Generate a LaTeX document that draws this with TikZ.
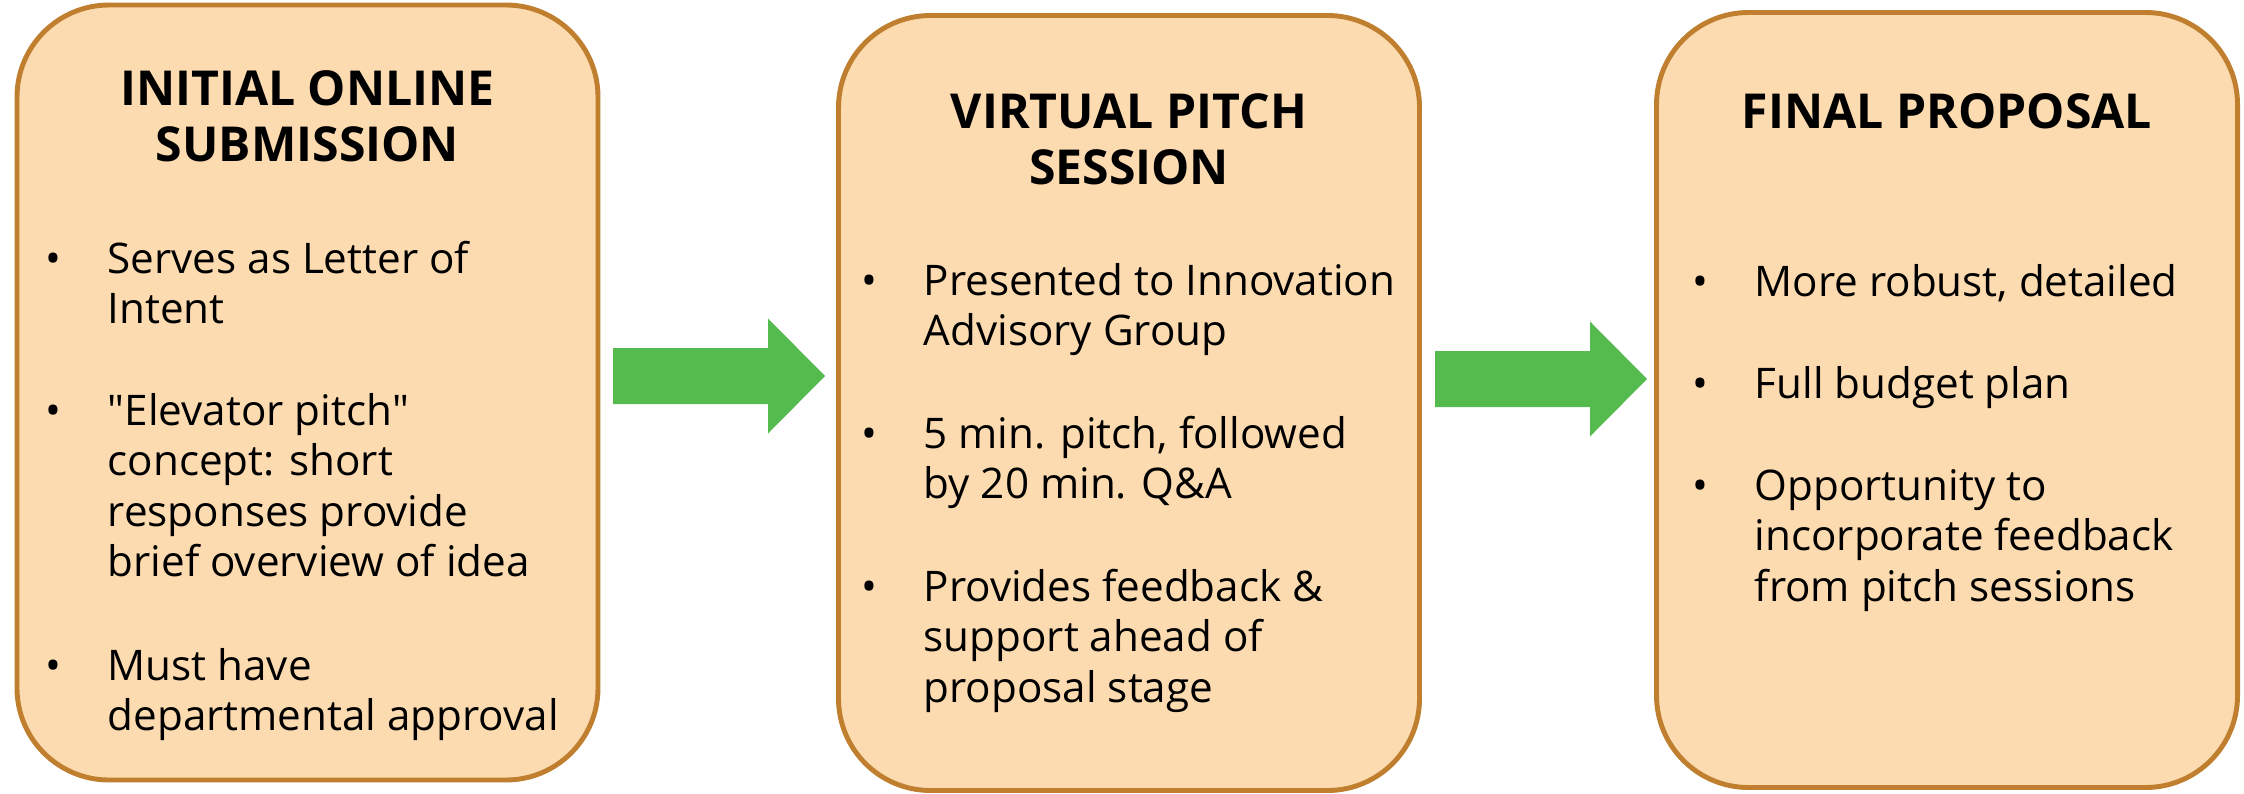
\documentclass[tikz,border=0pt]{standalone}
\usepackage{fontspec}
\setmainfont{Open Sans}
\usetikzlibrary{positioning}
\definecolor{peach}{HTML}{FDDBB0}
\definecolor{rust}{HTML}{BF7F2F}
\definecolor{leaf}{HTML}{55BB4F}
\newcommand{\headtxt}[1]{\parbox[t]{5.6cm}{\centering #1}}
\newcommand{\bul}[1]{\makebox[0.62cm][l]{\textbullet}\parbox[t]{5cm}{#1}}
\tikzset{
  stage/.style={rectangle, rounded corners=0.92cm, minimum width=5.81cm, minimum height=7.75cm, draw=rust, fill=peach, line width=1.4pt},
  ttl/.style={anchor=base, inner sep=0pt, font=\bfseries\fontsize{13.7}{16.2}\selectfont},
  pt/.style={anchor=base west, inner sep=0pt, font=\fontsize{12}{14.4}\selectfont},
  blockarrow/.pic={\fill[leaf] (0,0.28) -- (1.55,0.28) -- (1.55,0.575) -- (2.12,0) -- (1.55,-0.575) -- (1.55,-0.28) -- (0,-0.28) -- cycle;}
}
\begin{document}
\begin{tikzpicture}
	\useasboundingbox (0,0) rectangle (22.44,7.93);
	% the three stages
	\node[stage] (init) at (3.075,4.005) {};
	\node[stage] (pitch) at (11.29,3.90) {};
	\node[stage] (final) at (19.47,3.93) {};
	% arrows
	\pic at (6.13,4.17) {blockarrow};
	\pic at (14.35,4.14) {blockarrow};
	% initial submission
	\node[ttl] (initt) at (3.075,6.88) {\headtxt{INITIAL ONLINE\\SUBMISSION}};
	\node[pt] (inita) at (0.45,5.20) {\bul{Serves as Letter of\\Intent}};
	\node[pt] (initb) at (0.45,3.68) {\bul{\textquotedbl Elevator pitch\textquotedbl\\concept: short\\responses provide\\brief overview of idea}};
	\node[pt] (initc) at (0.45,1.13) {\bul{Must have\\departmental approval}};
	% pitch session
	\node[ttl] (pitcht) at (11.29,6.65) {\headtxt{VIRTUAL PITCH\\SESSION}};
	\node[pt] (pitcha) at (8.61,4.98) {\bul{Presented to Innovation\\Advisory Group}};
	\node[pt] (pitchb) at (8.61,3.45) {\bul{5 min. pitch, followed\\by 20 min. Q\&A}};
	\node[pt] (pitchc) at (8.61,1.92) {\bul{Provides feedback \&\\support ahead of\\proposal stage}};
	% final proposal
	\node[ttl] (finalt) at (19.47,6.65) {\headtxt{FINAL PROPOSAL}};
	\node[pt] (finala) at (16.92,4.97) {\bul{More robust, detailed}};
	\node[pt] (finalb) at (16.92,3.95) {\bul{Full budget plan}};
	\node[pt] (finalc) at (16.92,2.93) {\bul{Opportunity to\\incorporate feedback\\from pitch sessions}};
\end{tikzpicture}
\end{document}
